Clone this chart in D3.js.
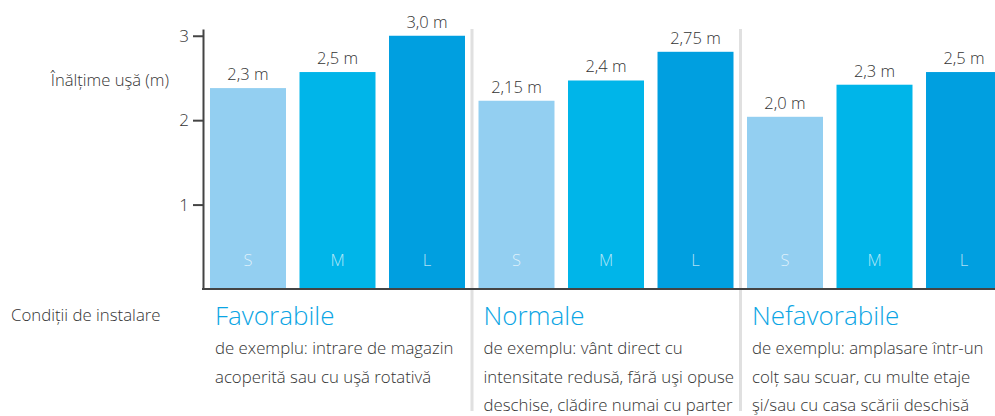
<!DOCTYPE html>
<html>
<head>
<meta charset="utf-8">
<script src="https://cdn.jsdelivr.net/npm/d3@7"></script>
<style>
  html, body { margin: 0; padding: 0; background: #fff; }
  svg { display: block; font-family: "Open Sans", sans-serif; font-weight: 300; }
</style>
</head>
<body>
<svg id="chart" width="995" height="416"></svg>
<script>
// ---- data ----
const groups = ["Favorabile", "Normale", "Nefavorabile"];
const sizes = ["S", "M", "L"];
// bar heights as drawn in the picture (m)
const favorabileValues = [2.38, 2.57, 3.0];
const normaleValues = [2.23, 2.47, 2.81];
const nefavorabileValues = [2.04, 2.42, 2.57];
// printed value labels
const favorabileLabels = ["2,3 m", "2,5 m", "3,0 m"];
const normaleLabels = ["2,15 m", "2,4 m", "2,75 m"];
const nefavorabileLabels = ["2,0 m", "2,3 m", "2,5 m"];
const yTicks = [1, 2, 3];
const yTickLabels = ["1", "2", "3"];
const yTitle = "Înălțime uşă (m)";
const xTitle = "Condiții de instalare";
const descriptions = [
  ["de exemplu: intrare de magazin", "acoperită sau cu uşă rotativă"],
  ["de exemplu: vânt direct cu", "intensitate redusă, fără uşi opuse", "deschise, clădire numai cu parter"],
  ["de exemplu: amplasare într-un", "colț sau scuar, cu multe etaje", "şi/sau cu casa scării deschisă"]
];

const valuesByGroup = [favorabileValues, normaleValues, nefavorabileValues];
const labelsByGroup = [favorabileLabels, normaleLabels, nefavorabileLabels];
const rows = [];
groups.forEach((g, gi) => sizes.forEach((s, si) => rows.push({
  group: g, size: s, value: valuesByGroup[gi][si], label: labelsByGroup[gi][si]
})));

// ---- layout ----
const svg = d3.select("#chart");
const axisX = 203, baseY = 289, topY = 29;
const colors = d3.scaleOrdinal().domain(sizes).range(["#93cff1", "#00b5e9", "#009fe0"]);

const y = d3.scaleLinear().domain([0, 3.08]).range([baseY, topY]);
const x0 = d3.scaleBand().domain(groups).range([axisX, axisX + 3 * 268.5]).padding(0);
const x1 = d3.scaleBand().domain(sizes).range([7, 262]).paddingInner(0.151).paddingOuter(0);

// separators
svg.append("g").selectAll("line").data(groups.slice(1)).join("line")
  .attr("x1", d => x0(d) + 0.5).attr("x2", d => x0(d) + 0.5)
  .attr("y1", topY).attr("y2", 411)
  .attr("stroke", "#e0e0e0").attr("stroke-width", 3);

// bars
const bars = svg.append("g");
bars.selectAll("rect").data(rows).join("rect")
  .attr("x", d => x0(d.group) + x1(d.size))
  .attr("width", x1.bandwidth())
  .attr("y", d => y(d.value))
  .attr("height", d => y(0) - y(d.value))
  .attr("fill", d => colors(d.size));

// value labels
bars.selectAll("text.val").data(rows).join("text").attr("class", "val")
  .attr("x", d => x0(d.group) + x1(d.size) + x1.bandwidth() / 2)
  .attr("y", d => y(d.value) - 8)
  .attr("text-anchor", "middle")
  .attr("font-size", 16.5).attr("fill", "#333")
  .text(d => d.label);

// size labels inside bars
bars.selectAll("text.size").data(rows).join("text").attr("class", "size")
  .attr("x", d => x0(d.group) + x1(d.size) + x1.bandwidth() / 2)
  .attr("y", 266)
  .attr("text-anchor", "middle")
  .attr("font-size", 16.5).attr("fill", "#fff").attr("fill-opacity", 0.7)
  .text(d => d.size);

// y axis
const yAxis = svg.append("g").attr("transform", `translate(${axisX},0)`)
  .call(d3.axisLeft(y).tickValues(yTicks).tickFormat((d, i) => yTickLabels[i])
    .tickSize(10).tickSizeOuter(0).tickPadding(4));
yAxis.select(".domain").attr("stroke", "#444").attr("stroke-width", 2);
yAxis.selectAll(".tick line").attr("stroke", "#444").attr("stroke-width", 2);
yAxis.selectAll(".tick text").attr("font-size", 17).attr("fill", "#333")
  .attr("font-family", "Open Sans, sans-serif").attr("font-weight", 300);

// x baseline
svg.append("line").attr("x1", axisX - 1).attr("x2", 995)
  .attr("y1", baseY).attr("y2", baseY)
  .attr("stroke", "#444").attr("stroke-width", 2);

// titles
svg.append("text").attr("x", 169).attr("y", 86).attr("text-anchor", "end")
  .attr("font-size", 16.6).attr("fill", "#333").text(yTitle);
svg.append("text").attr("x", 11).attr("y", 321).attr("font-size", 16.8)
  .attr("fill", "#333").text(xTitle);

// group headings and descriptions
const gt = svg.append("g").selectAll("g").data(groups).join("g")
  .attr("transform", d => `translate(${x0(d) + 12},0)`);
gt.append("text").attr("y", 325).attr("font-size", 26).attr("fill", "#0ba5e4")
  .text(d => d);
gt.each(function(d, i) {
  d3.select(this).selectAll("text.desc").data(descriptions[i]).join("text")
    .attr("class", "desc")
    .attr("y", (t, j) => 354 + j * 28.5)
    .attr("font-size", 16.8).attr("fill", "#333")
    .text(t => t);
});
</script>
</body>
</html>
